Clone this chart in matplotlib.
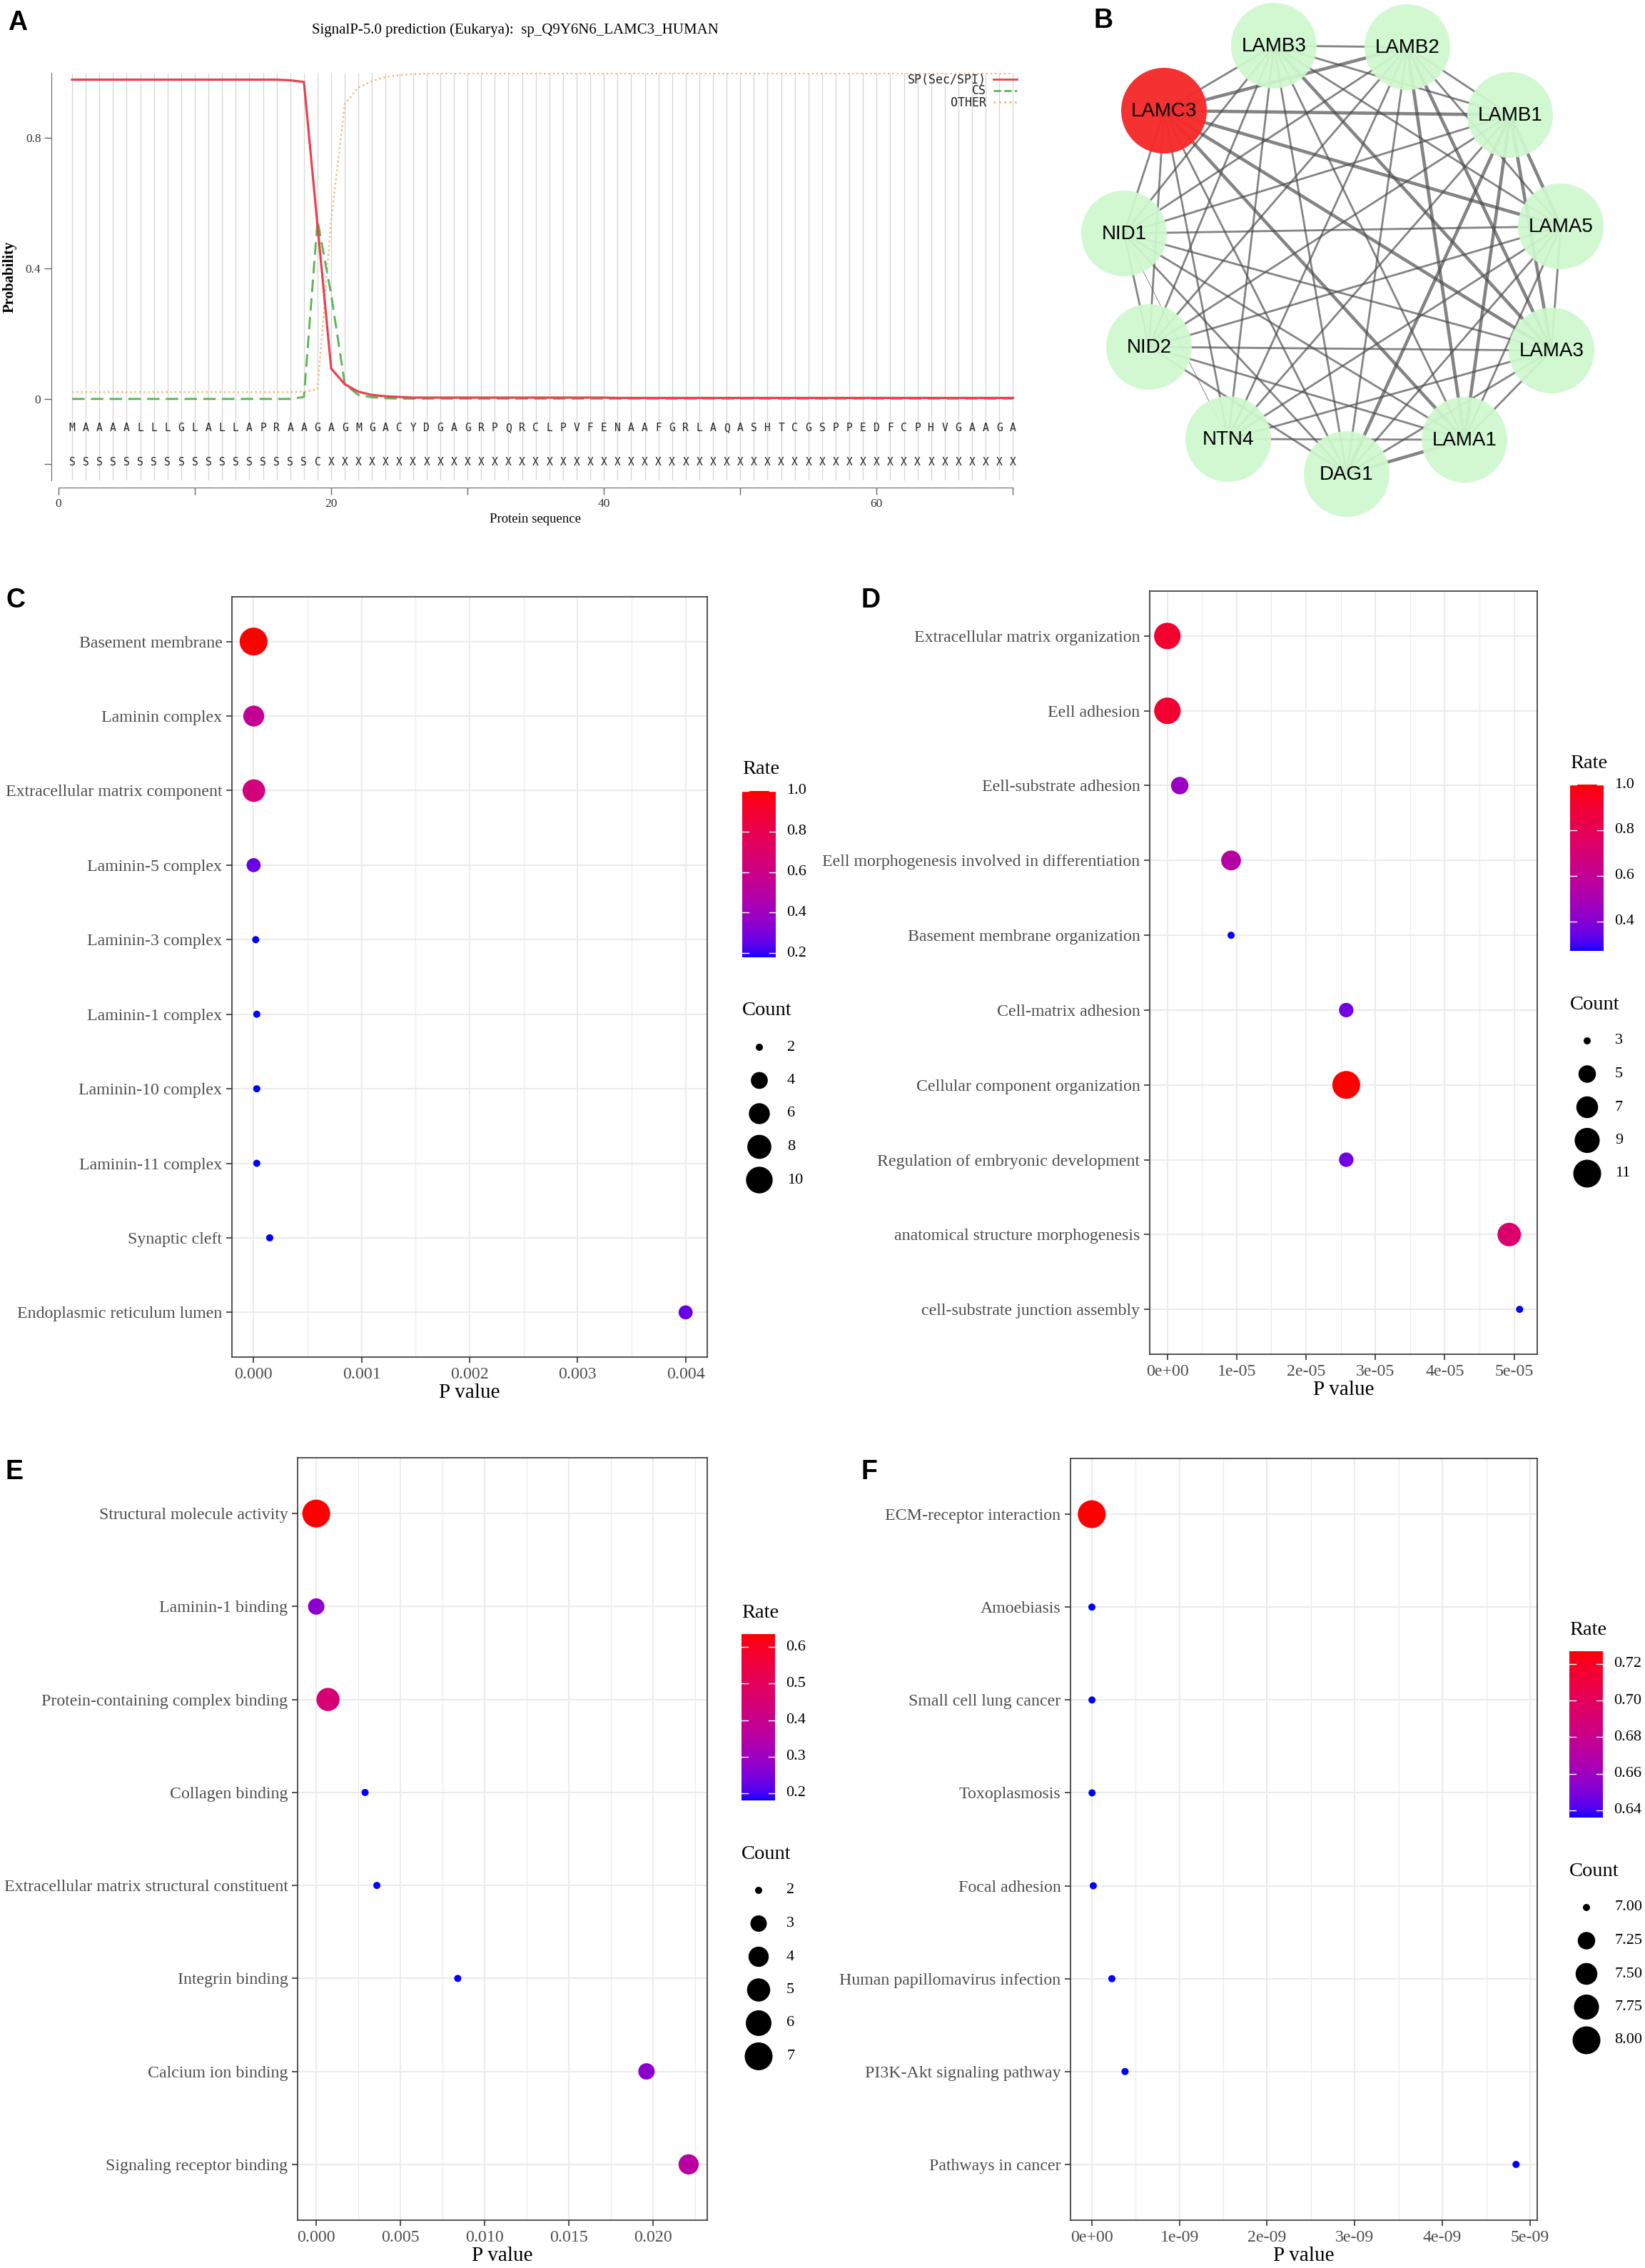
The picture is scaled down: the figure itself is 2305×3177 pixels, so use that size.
import matplotlib
matplotlib.use('Agg')
import matplotlib.pyplot as plt
from matplotlib.patches import Circle
import numpy as np

# ---- canvas ----
W, H, DPI = 2305, 3177, 100
SERIF = 'Liberation Serif'
SANS = 'Liberation Sans'
MONO = 'DejaVu Sans Mono'

# ---- A: SignalP-5.0 ----
seq = list('MAAAALLLGLALLAPRAAGAGMGACYDGAGRPQRCLPVFENAAFGRLAQASHTCGSPPEDFCPHVGAAGA')
region = list('S' * 18 + 'C' + 'X' * 51)
sp_prob = [0.979] * 16 + [0.977, 0.972, 0.53, 0.093, 0.045, 0.022, 0.012, 0.008, 0.006] + [0.004] * 15 + [0.003] * 30
cs_prob = [0.0] * 17 + [0.006, 0.547, 0.32, 0.045, 0.012, 0.005, 0.002] + [0.001] * 46
other_prob = [0.021] * 17 + [0.022, 0.03, 0.55, 0.905, 0.955, 0.975, 0.987, 0.993, 0.996] + [0.998] * 44

# ---- B: PPI network ----
genes = ['LAMC3', 'LAMB3', 'LAMB2', 'LAMB1', 'LAMA5', 'LAMA3', 'LAMA1', 'DAG1', 'NTN4', 'NID2', 'NID1']
edges = [
    ('LAMC3', 'LAMB3', 2), ('LAMC3', 'LAMB2', 3), ('LAMC3', 'LAMB1', 3), ('LAMC3', 'LAMA5', 3),
    ('LAMC3', 'LAMA3', 3), ('LAMC3', 'LAMA1', 3), ('LAMC3', 'DAG1', 2), ('LAMC3', 'NTN4', 2),
    ('LAMC3', 'NID2', 2), ('LAMC3', 'NID1', 2),
    ('LAMB3', 'LAMB2', 2), ('LAMB3', 'LAMB1', 2), ('LAMB3', 'LAMA5', 2), ('LAMB3', 'LAMA3', 3),
    ('LAMB3', 'LAMA1', 2), ('LAMB3', 'DAG1', 2), ('LAMB3', 'NTN4', 2), ('LAMB3', 'NID2', 2),
    ('LAMB3', 'NID1', 2),
    ('LAMB2', 'LAMB1', 2), ('LAMB2', 'LAMA5', 2), ('LAMB2', 'LAMA3', 3), ('LAMB2', 'LAMA1', 3),
    ('LAMB2', 'DAG1', 2), ('LAMB2', 'NTN4', 2), ('LAMB2', 'NID2', 2), ('LAMB2', 'NID1', 2),
    ('LAMB1', 'LAMA5', 3), ('LAMB1', 'LAMA3', 3), ('LAMB1', 'LAMA1', 3), ('LAMB1', 'DAG1', 3),
    ('LAMB1', 'NTN4', 2), ('LAMB1', 'NID2', 2), ('LAMB1', 'NID1', 2),
    ('LAMA5', 'LAMA3', 2), ('LAMA5', 'LAMA1', 2), ('LAMA5', 'DAG1', 2), ('LAMA5', 'NTN4', 2),
    ('LAMA5', 'NID2', 2), ('LAMA5', 'NID1', 2),
    ('LAMA3', 'LAMA1', 2), ('LAMA3', 'DAG1', 2), ('LAMA3', 'NTN4', 2), ('LAMA3', 'NID2', 2),
    ('LAMA3', 'NID1', 2),
    ('LAMA1', 'DAG1', 3), ('LAMA1', 'NTN4', 2), ('LAMA1', 'NID2', 2), ('LAMA1', 'NID1', 2),
    ('DAG1', 'NID2', 2), ('DAG1', 'NID1', 2),
    ('NTN4', 'NID1', 1), ('NID2', 'NID1', 2),
]

# ---- C: GO cellular component ----
C_terms = ['Basement membrane', 'Laminin complex', 'Extracellular matrix component', 'Laminin-5 complex',
           'Laminin-3 complex', 'Laminin-1 complex', 'Laminin-10 complex', 'Laminin-11 complex',
           'Synaptic cleft', 'Endoplasmic reticulum lumen']
C_pval = [1e-7, 2e-6, 3e-6, 5e-7, 2e-5, 3e-5, 3e-5, 3e-5, 1.5e-4, 4.0e-3]
C_count = [11, 6, 7, 3, 2, 2, 2, 2, 2, 3]
C_rate = [1.0, 0.55, 0.64, 0.27, 0.18, 0.18, 0.18, 0.18, 0.18, 0.27]

# ---- D: GO biological process ----
D_terms = ['Extracellular matrix organization', 'Eell adhesion', 'Eell-substrate adhesion',
           'Eell morphogenesis involved in differentiation', 'Basement membrane organization',
           'Cell-matrix adhesion', 'Cellular component organization', 'Regulation of embryonic development',
           'anatomical structure morphogenesis', 'cell-substrate junction assembly']
D_pval = [1e-8, 2e-8, 1.8e-6, 9.2e-6, 9.2e-6, 2.58e-5, 2.58e-5, 2.58e-5, 4.93e-5, 5.08e-5]
D_count = [10, 10, 5, 6, 3, 4, 11, 4, 8, 3]
D_rate = [0.91, 0.91, 0.45, 0.55, 0.27, 0.36, 1.0, 0.36, 0.73, 0.27]

# ---- E: GO molecular function ----
E_terms = ['Structural molecule activity', 'Laminin-1 binding', 'Protein-containing complex binding',
           'Collagen binding', 'Extracellular matrix structural constituent', 'Integrin binding',
           'Calcium ion binding', 'Signaling receptor binding']
E_pval = [1e-6, 2e-6, 7.0e-4, 2.9e-3, 3.6e-3, 8.4e-3, 1.96e-2, 2.21e-2]
E_count = [7, 3, 5, 2, 2, 2, 3, 4]
E_rate = [0.636, 0.27, 0.45, 0.18, 0.18, 0.18, 0.27, 0.36]

# ---- F: KEGG ----
F_terms = ['ECM-receptor interaction', 'Amoebiasis', 'Small cell lung cancer', 'Toxoplasmosis',
           'Focal adhesion', 'Human papillomavirus infection', 'PI3K-Akt signaling pathway',
           'Pathways in cancer']
F_pval = [1e-13, 2e-12, 3e-12, 4e-12, 1.8e-11, 2.3e-10, 3.8e-10, 4.84e-9]
F_count = [8, 7, 7, 7, 7, 7, 7, 7]
F_rate = [0.727, 0.636, 0.636, 0.636, 0.636, 0.636, 0.636, 0.636]


# ---- helpers ----
M_XYZ = np.array([[0.4124, 0.3576, 0.1805], [0.2126, 0.7152, 0.0722], [0.0193, 0.1192, 0.9505]])
WHITE = np.array([0.95047, 1.0, 1.08883])


def to_lab(rgb):
    rgb = np.asarray(rgb, float)
    lin = np.where(rgb <= 0.04045, rgb / 12.92, ((rgb + 0.055) / 1.055) ** 2.4)
    xyz = M_XYZ @ lin / WHITE
    f = np.where(xyz > 0.008856, np.cbrt(xyz), 7.787 * xyz + 16 / 116)
    return np.array([116 * f[1] - 16, 500 * (f[0] - f[1]), 200 * (f[1] - f[2])])


def from_lab(lab):
    L, a, b = lab[:, 0], lab[:, 1], lab[:, 2]
    fy = (L + 16) / 116
    f = np.stack([fy + a / 500, fy, fy - b / 200], 1)
    xyz = np.where(f ** 3 > 0.008856, f ** 3, (f - 16 / 116) / 7.787) * WHITE
    lin = np.clip(xyz @ np.linalg.inv(M_XYZ).T, 0, 1)
    return np.clip(np.where(lin <= 0.0031308, 12.92 * lin, 1.055 * lin ** (1 / 2.4) - 0.055), 0, 1)


# blue -> red gradient interpolated in Lab space (like ggplot)
t = np.linspace(0, 1, 256)[:, None]
grad = from_lab((1 - t) * to_lab([0, 0, 1]) + t * to_lab([1, 0, 0]))
cmap = matplotlib.colors.ListedColormap(grad)


def rect(l, t, r, b):
    return [l / W, 1 - b / H, (r - l) / W, (b - t) / H]


def dot_size(c, cmin, cmax):
    d = 10 + 29 * np.sqrt((np.asarray(c, float) - cmin) / (cmax - cmin))
    return (d * 72 / DPI) ** 2


fig = plt.figure(figsize=(W / DPI, H / DPI), dpi=DPI)
ov = fig.add_axes([0, 0, 1, 1], zorder=10)
ov.set_xlim(0, W)
ov.set_ylim(H, 0)
ov.axis('off')

# ============ A ============
axA = fig.add_axes(rect(72, 102, 1428, 673))
pos = np.arange(1, len(seq) + 1)
axA.set_xlim(-0.52, 70.45)
axA.set_ylim(-0.25, 1.0)
axA.vlines(pos, -0.25, 1.0, color='#d4d4d4', lw=0.9, zorder=0)
axA.plot(pos, other_prob, color='#f6b27a', lw=1.7, ls=':', zorder=2)
axA.plot(pos, cs_prob, color='#5db55a', lw=2.1, dashes=(6, 3), zorder=3)
axA.plot(pos, sp_prob, color='#e8414f', lw=2.3, zorder=4)
for i in range(len(seq)):
    axA.text(pos[i], -0.09, seq[i], ha='center', va='center', family=MONO, fontsize=10.5, color='#222222')
    axA.text(pos[i], -0.195, region[i], ha='center', va='center', family=MONO, fontsize=10.5, color='#222222')
for s in ['top', 'right']:
    axA.spines[s].set_visible(False)
axA.spines['left'].set_color('#666666')
axA.spines['bottom'].set_color('#666666')
axA.spines['bottom'].set_position(('outward', 7.2))
axA.spines['bottom'].set_bounds(0, 70)
axA.set_yticks([-0.2, 0, 0.4, 0.8])
axA.set_yticklabels(['', '0', '0.4', '0.8'])
axA.set_xticks(np.arange(0, 71, 10))
axA.set_xticklabels(['0', '', '20', '', '40', '', '60', ''])
axA.tick_params(length=7, width=1, color='#666666', labelsize=12.5, labelcolor='#333333')
for lab in axA.get_xticklabels() + axA.get_yticklabels():
    lab.set_family(SERIF)
axA.set_xlabel('Protein sequence', family=SERIF, fontsize=13.5, labelpad=4)
axA.set_ylabel('Probability', family=SERIF, fontsize=15, fontweight='bold', labelpad=9)
ov.text(722, 42, 'SignalP-5.0 prediction (Eukarya):  sp_Q9Y6N6_LAMC3_HUMAN', ha='center', va='center',
        family=SERIF, fontsize=15)
# legend
leg = [('SP(Sec/SPI)', '#e8414f', '-', 112), ('CS', '#5db55a', '--', 127.5), ('OTHER', '#f6b27a', ':', 144)]
for name, col, ls, yy in leg:
    ov.text(1382, yy, name, ha='right', va='center', family=MONO, fontsize=12, color='#222222')
    ov.plot([1392, 1425], [yy - 1, yy - 1], color=col, ls=ls, lw=2.0)

# ============ B ============
axB = fig.add_axes(rect(1470, 0, 2305, 740))
axB.set_xlim(1470, 2305)
axB.set_ylim(740, 0)
axB.axis('off')
layout = {'LAMC3': (1631, 155), 'LAMB3': (1785, 64), 'LAMB2': (1972, 66), 'LAMB1': (2116, 161),
          'LAMA5': (2187, 317), 'LAMA3': (2174, 491), 'LAMA1': (2052, 616), 'DAG1': (1887, 664),
          'NTN4': (1721, 615), 'NID2': (1610, 486), 'NID1': (1575, 327)}
widths = {1: 0.7, 2: 2.0, 3: 3.3}
for a, b, w in edges:
    (x1, y1), (x2, y2) = layout[a], layout[b]
    axB.plot([x1, x2], [y1, y2], color='#4a4a4a', alpha=0.68, lw=widths[w], solid_capstyle='butt', zorder=1)
for g in genes:
    x, y = layout[g]
    if g == 'LAMC3':
        axB.add_patch(Circle((x, y), 60, fc='#f52a2a', ec='none', alpha=0.97, zorder=2))
    else:
        axB.add_patch(Circle((x, y), 60, fc='#cff8cf', ec='none', alpha=0.93, zorder=2))
    axB.text(x, y + 1, g, ha='center', va='center', family=SANS, fontsize=20, color='black', zorder=3)


# ============ C-F ============
def bubble(box, terms, pval, count, rate, xticks, xlabels, bar_left, bar_top,
           rate_ticks, rate_labels, size_breaks, size_labels):
    ax = fig.add_axes(rect(*box))
    n = len(terms)
    y = np.arange(n)
    lo, hi = min(pval), max(pval)
    span = hi - lo
    ax.set_xlim(lo - 0.05 * span, hi + 0.05 * span)
    ax.set_ylim(n - 0.4, -0.6)
    cmin, cmax = min(count), max(count)
    rmin, rmax = min(rate), max(rate)
    ax.scatter(pval, y, s=dot_size(count, cmin, cmax), c=rate, cmap=cmap, vmin=rmin, vmax=rmax,
               edgecolors='none', zorder=3)
    step = xticks[1] - xticks[0]
    minor = [v for v in np.arange(xticks[0] - step / 2, xticks[-1] + step, step)
             if ax.get_xlim()[0] < v < ax.get_xlim()[1]]
    ax.set_xticks(xticks)
    ax.set_xticklabels(xlabels)
    ax.set_xticks(minor, minor=True)
    ax.set_yticks(y)
    ax.set_yticklabels(terms)
    ax.grid(which='major', color='#ebebeb', lw=1.5, zorder=0)
    ax.grid(which='minor', axis='x', color='#ebebeb', lw=0.8, zorder=0)
    ax.set_axisbelow(True)
    ax.tick_params(which='major', length=5.8, width=1.2, color='#333333', labelsize=17.2,
                   labelcolor='#4d4d4d', pad=4)
    ax.tick_params(which='minor', length=0)
    for lab in ax.get_xticklabels() + ax.get_yticklabels():
        lab.set_family(SERIF)
    for s in ax.spines.values():
        s.set_color('#333333')
        s.set_linewidth(1.2)
    ax.set_xlabel('P value', family=SERIF, fontsize=21, labelpad=2)

    # colour bar
    cb = fig.add_axes(rect(bar_left, bar_top, bar_left + 47, bar_top + 233))
    cb.imshow(np.linspace(0, 1, 256)[:, None], cmap=cmap, aspect='auto', origin='lower',
              extent=[0, 1, rmin, rmax])
    cb.set_xlim(0, 1)
    cb.set_ylim(rmin, rmax)
    cb.axis('off')
    tr = cb.get_yaxis_transform()
    for tv, tl in zip(rate_ticks, rate_labels):
        cb.plot([0, 0.2], [tv, tv], color='white', lw=1)
        cb.plot([0.8, 1.0], [tv, tv], color='white', lw=1)
        cb.text(1.32, tv, tl, transform=tr, ha='left', va='center', family=SERIF, fontsize=16,
                clip_on=False)
    ov.text(bar_left, bar_top - 30, 'Rate', ha='left', va='center', family=SERIF, fontsize=20.5)
    ct = bar_top + 233 + 75
    ov.text(bar_left, ct, 'Count', ha='left', va='center', family=SERIF, fontsize=20.5)
    ky = ct + 51 + 46.5 * np.arange(len(size_breaks))
    ov.scatter([bar_left + 24] * len(size_breaks), ky, s=dot_size(size_breaks, cmin, cmax),
               c='black', edgecolors='none')
    for yy, sl in zip(ky, size_labels):
        ov.text(bar_left + 63, yy, sl, ha='left', va='center', family=SERIF, fontsize=16)
    return ax


bubble((325, 836, 991, 1901), C_terms, C_pval, C_count, C_rate,
       [0, 0.001, 0.002, 0.003, 0.004], ['0.000', '0.001', '0.002', '0.003', '0.004'],
       1040, 1108, [0.2, 0.4, 0.6, 0.8, 1.0], ['0.2', '0.4', '0.6', '0.8', '1.0'],
       [2, 4, 6, 8, 10], ['2', '4', '6', '8', '10'])
bubble((1611, 828, 2154, 1897), D_terms, D_pval, D_count, D_rate,
       [0, 1e-5, 2e-5, 3e-5, 4e-5, 5e-5], ['0e+00', '1e-05', '2e-05', '3e-05', '4e-05', '5e-05'],
       2200, 1099, [0.4, 0.6, 0.8, 1.0], ['0.4', '0.6', '0.8', '1.0'],
       [3, 5, 7, 9, 11], ['3', '5', '7', '9', '11'])
bubble((417, 2042, 991, 3110), E_terms, E_pval, E_count, E_rate,
       [0, 0.005, 0.010, 0.015, 0.020], ['0.000', '0.005', '0.010', '0.015', '0.020'],
       1039, 2289, [0.2, 0.3, 0.4, 0.5, 0.6], ['0.2', '0.3', '0.4', '0.5', '0.6'],
       [2, 3, 4, 5, 6, 7], ['2', '3', '4', '5', '6', '7'])
bubble((1500, 2043, 2154, 3110), F_terms, F_pval, F_count, F_rate,
       [0, 1e-9, 2e-9, 3e-9, 4e-9, 5e-9], ['0e+00', '1e-09', '2e-09', '3e-09', '4e-09', '5e-09'],
       2199, 2313, [0.64, 0.66, 0.68, 0.70, 0.72], ['0.64', '0.66', '0.68', '0.70', '0.72'],
       [7.0, 7.25, 7.5, 7.75, 8.0], ['7.00', '7.25', '7.50', '7.75', '8.00'])

# panel letters
for letter, (x, y) in {'A': (25, 32), 'B': (1546, 29), 'C': (22, 841), 'D': (1220, 841),
                       'E': (20, 2062), 'F': (1218, 2062)}.items():
    ov.text(x, y, letter, ha='center', va='center', family=SANS, fontsize=27, fontweight='bold')

fig.savefig('out.png', dpi=DPI, facecolor='white')
